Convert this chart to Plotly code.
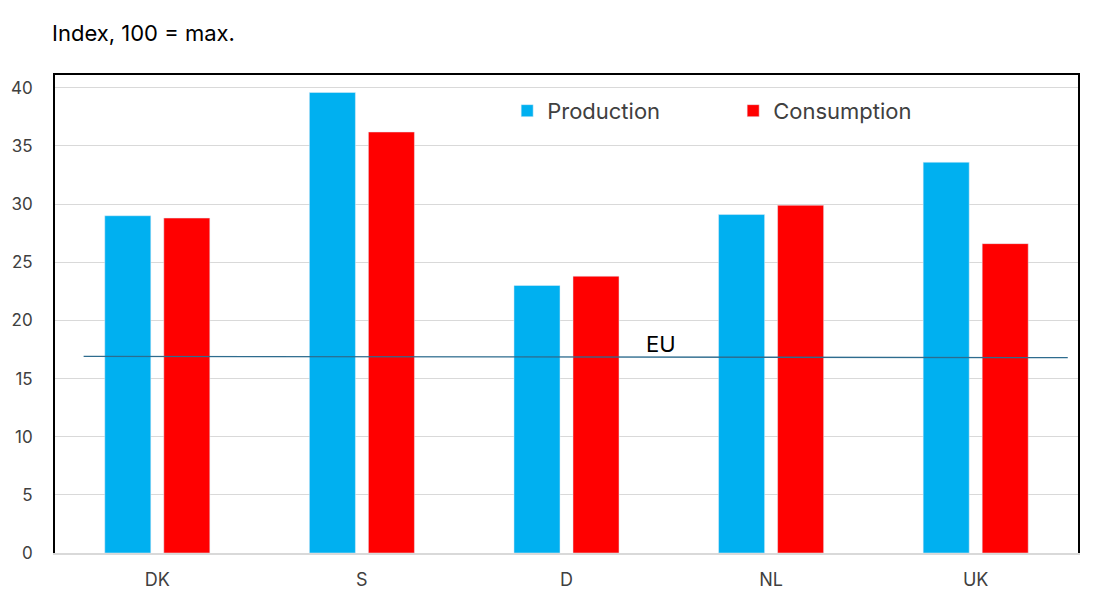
import plotly.graph_objects as go

# Data
countries = ["DK", "S", "D", "NL", "UK"]
production = [29.0, 39.6, 23.0, 29.1, 33.6]
consumption = [28.8, 36.2, 23.8, 29.9, 26.6]
eu_level = [16.9, 16.8]        # EU level at left and right end of the line
eu_span = [-0.36, 4.45]        # category-index extent of the EU line

fig = go.Figure()

fig.add_trace(go.Bar(x=countries, y=production, name="Production",
                     marker=dict(color="#00B0F0")))
fig.add_trace(go.Bar(x=countries, y=consumption, name="Consumption",
                     marker=dict(color="#FF0000")))

# EU reference line on an overlaid numeric axis (that axis also draws the top frame)
fig.add_trace(go.Scatter(x=eu_span, y=eu_level, mode="lines", xaxis="x2",
                         line=dict(color="#2E6C8E", width=1.3),
                         showlegend=False, hoverinfo="skip"))

fig.add_annotation(text="EU", x=2.46, y=18.0, xref="x2", yref="y",
                   showarrow=False, font=dict(size=22, color="black"))

fig.update_layout(
    width=1100, height=600,
    paper_bgcolor="white", plot_bgcolor="white",
    margin=dict(l=47, r=30, t=67, b=55),
    font=dict(family="Inter, Roboto, Arial, sans-serif", color="#404040"),
    title=dict(text="Index, 100 = max.", x=0.04, xanchor="left",
               y=0.958, yanchor="middle",
               font=dict(size=22, color="black")),
    barmode="group", bargap=0.423, bargroupgap=0.22,
    legend=dict(orientation="h", x=0.442, y=0.925, xanchor="left",
                yanchor="middle", font=dict(size=22, color="#404040"),
                bgcolor="rgba(0,0,0,0)", entrywidth=181, entrywidthmode="pixels",
                itemwidth=30),
    xaxis=dict(showline=True, linecolor="#D9D9D9", linewidth=1.5,
               ticks="", tickfont=dict(size=18), showgrid=False,
               ticklabelstandoff=10, automargin=False),
    xaxis2=dict(overlaying="x", side="top", range=[-0.5, 4.5],
                showline=True, linecolor="black", linewidth=1.5,
                showticklabels=False, ticks="", showgrid=False,
                zeroline=False, automargin=False),
    yaxis=dict(range=[0, 41.1], dtick=5, showgrid=True, gridcolor="#D9D9D9",
               gridwidth=1.3, showline=True, linecolor="black", linewidth=1.8,
               mirror=True, ticks="", tickfont=dict(size=17), zeroline=False,
               ticklabelstandoff=17, automargin=False),
)

fig.write_html("out.html")
